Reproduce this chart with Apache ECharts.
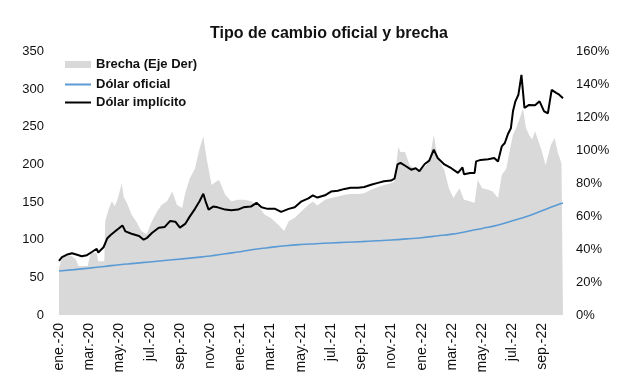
<!DOCTYPE html>
<html>
<head>
<meta charset="utf-8">
<script src="https://cdn.jsdelivr.net/npm/echarts@6/dist/echarts.min.js"></script>
<style>
html,body{margin:0;padding:0;background:#fff;}
#c{width:617px;height:387px;}
</style>
</head>
<body>
<div id="c"></div>
<script>
// Time is expressed in months since ene.-2020 (0 = start of January 2020)
var monthNames = ['ene.','feb.','mar.','abr.','may.','jun.','jul.','ago.','sep.','oct.','nov.','dic.'];
var tickMonths = [0,2,4,6,8,10,12,14,16,18,20,22,24,26,28,30,32];

// Dólar implícito (eje izq.)
var implicitoT = [0,0.2,0.5,0.86,1.2,1.5,1.85,2.2,2.5,2.6,2.95,3.2,3.4,3.7,4.2,4.4,4.8,5.3,5.6,5.8,6.15,6.6,7.0,7.36,7.7,8.0,8.35,8.66,9.0,9.3,9.55,9.7,9.9,10.2,10.5,11.0,11.4,11.85,12.2,12.7,13.07,13.4,13.8,14.3,14.7,15.2,15.6,16.05,16.5,16.8,17.1,17.6,18.0,18.45,18.9,19.3,19.8,20.2,20.65,21.1,21.5,21.97,22.2,22.4,22.6,22.96,23.3,23.6,23.85,24.2,24.5,24.8,25.06,25.5,25.96,26.4,26.7,26.8,27.2,27.5,27.6,27.9,28.4,28.8,29.05,29.3,29.5,29.7,29.9,30.04,30.2,30.4,30.6,30.7,30.8,31.1,31.5,31.8,32.1,32.35,32.6,32.9,33.1,33.35];
var implicitoV = [72,77,80,82,80,78,79.5,84,88,83,90,102,106,111,119,111,108,105,100,102,109,116,117,125,124,116,121,131,141,151,161,151,140,144,143,140,139,140,143,144,149,143,141,141,137,141,143,151,155,159,156,159,164,165,167.5,169,169,170,173,175.5,177.7,178.6,181,200,202,197.6,193,195,191,200.6,205,219.7,208.6,200,195,188.7,196,187,188.7,188.7,204,206,207,208.6,204,224,228.5,240,248,270.5,283.8,292.6,319,319,275,279,278.5,283.8,270.5,268,299,295,292.6,288];

// Dólar oficial (eje izq.)
var oficialT = [0,1,2,3,4,5,6,7,8,9,10,11,12,13,14,15,16,17,18,19,20,21,22,23,24,25,26,27,28,29,30,31,32,33,33.35];
var oficialV = [58.5,60.3,62.3,64.5,66.8,68.6,70.5,72.4,74.2,76.2,78.4,81.3,84.1,87.3,89.8,92.0,93.6,94.7,95.7,96.6,97.5,98.6,99.7,101.1,102.7,105.0,107.4,111.0,115.0,119.2,125.2,131.2,138.7,146.5,148.7];

// Brecha en % (eje der.)
var brechaT = [0,0.15,0.3,0.8,1.1,1.3,1.9,2.1,2.5,2.6,3.0,3.06,3.28,3.5,3.7,3.9,4.16,4.27,4.5,4.8,5.1,5.45,5.8,6.15,6.5,6.8,7.15,7.5,7.8,8.15,8.35,8.66,9.0,9.3,9.55,9.77,10.1,10.4,10.6,11.0,11.4,11.85,12.3,12.7,13.2,13.6,14.0,14.5,14.9,15.2,15.6,16.05,16.5,16.8,17.1,17.6,18.0,18.45,18.9,19.3,19.8,20.2,20.65,21.1,21.5,21.97,22.2,22.45,22.6,22.9,23.2,23.5,23.85,24.2,24.5,24.8,25.06,25.5,25.8,26.1,26.5,26.8,27.2,27.5,27.7,28.0,28.4,28.7,29.05,29.3,29.6,29.85,30.04,30.25,30.5,30.7,30.9,31.1,31.3,31.5,31.9,32.2,32.55,32.8,33.0,33.25,33.35];
var brechaV = [28.7,33,36,36,34,29.7,29.7,37.8,37.8,32.7,32.7,57,64,69,66,71,80,72,68,61,57,51,49,57,63,67,69,75,67,65,74,83,89,101,108.5,95,79,81,82,73,69,70,70,69,66,61,59,55,51,57,59,63,67,68.7,66.5,70,71,72,73,73.5,73.5,74,76,77.6,79,80,81,102,99,99,91,89,87,90,93,109.5,95,88,77,71,77,70,69,68,82,77,76,75,71,85,89,101,109.5,113.5,119.6,125.6,113.5,109.5,106.5,111.5,101,91,103.4,107.5,99,92,91];

function pairs(t, v){ return t.map(function(x,i){ return [x, v[i]]; }); }

var FONT = '"Liberation Sans", Arial, Helvetica, sans-serif';
var legendText = {fontFamily: FONT, fontSize: 13, fontWeight: 'bold', color: '#111'};
var chart = echarts.init(document.getElementById('c'), null, {renderer:'canvas'});
chart.setOption({
  animation: false,
  backgroundColor: '#fff',
  title: {
    text: 'Tipo de cambio oficial y brecha',
    left: 205, top: 21,
    textStyle: {fontFamily: FONT, fontSize: 16, fontWeight: 'bold', color: '#111'}
  },
  legend: [
    {orient: 'vertical', left: 60, top: 53, itemWidth: 26, itemHeight: 7,
     textStyle: legendText, data: ['Brecha (Eje Der)'], icon: 'rect'},
    {orient: 'vertical', left: 60, top: 73, itemWidth: 26, itemHeight: 2, itemGap: 5,
     textStyle: legendText, data: ['Dólar oficial', 'Dólar implícito'], icon: 'rect'}
  ],
  grid: {left: 57, right: 54, top: 51.5, bottom: 72, containLabel: false},
  xAxis: {
    type: 'value', min: -0.13, max: 33.35,
    splitLine: {show:false}, axisTick: {show:false}, axisLine: {show:false},
    axisLabel: {
      customValues: tickMonths, rotate: 90, margin: 8,
      fontFamily: FONT, fontSize: 14, color: '#111',
      formatter: function(v){
        var m = Math.round(v);
        return monthNames[m % 12] + '-' + String(20 + Math.floor(m/12));
      }
    }
  },
  yAxis: [
    {type:'value', min:0, max:350, interval:50, position:'left',
     splitLine:{show:false}, axisLine:{show:false}, axisTick:{show:false},
     axisLabel:{margin:13, fontFamily:FONT, fontSize:13, color:'#111'}},
    {type:'value', min:0, max:160, interval:20, position:'right',
     splitLine:{show:false}, axisLine:{show:false}, axisTick:{show:false},
     axisLabel:{margin:13, fontFamily:FONT, fontSize:13, color:'#111', formatter:'{value}%'}}
  ],
  series: [
    {name:'Brecha (Eje Der)', type:'line', yAxisIndex:1, data:pairs(brechaT, brechaV),
     showSymbol:false, symbol:'none', lineStyle:{width:0, color:'#d9d9d9'},
     itemStyle:{color:'#d9d9d9'}, areaStyle:{color:'#d9d9d9', opacity:1}, z:1},
    {name:'Dólar oficial', type:'line', yAxisIndex:0, data:pairs(oficialT, oficialV),
     showSymbol:false, symbol:'none', smooth:true, lineStyle:{width:1.6, color:'#5b9bd5'},
     itemStyle:{color:'#5b9bd5'}, z:3},
    {name:'Dólar implícito', type:'line', yAxisIndex:0, data:pairs(implicitoT, implicitoV),
     showSymbol:false, symbol:'none', lineStyle:{width:2, color:'#000'},
     itemStyle:{color:'#000'}, z:4}
  ]
});
</script>
</body>
</html>
